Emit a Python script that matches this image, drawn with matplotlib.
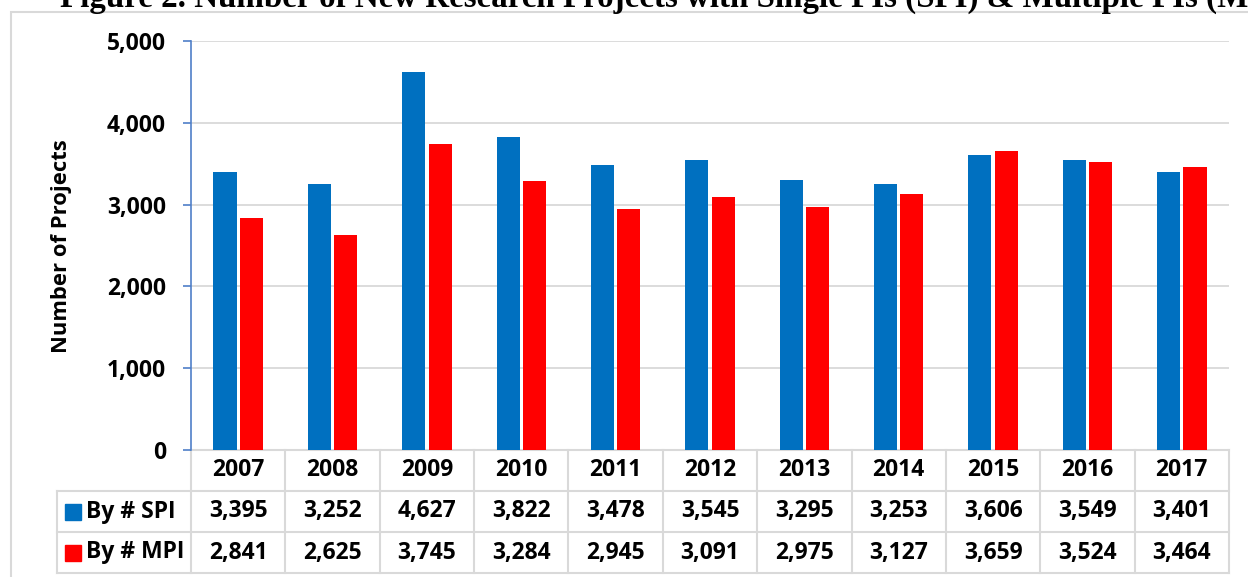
import numpy as np
import matplotlib.pyplot as plt
from matplotlib.patches import Rectangle

years = ['2007', '2008', '2009', '2010', '2011', '2012', '2013', '2014', '2015', '2016', '2017']
spi = [3395, 3252, 4627, 3822, 3478, 3545, 3295, 3253, 3606, 3549, 3401]
mpi = [2841, 2625, 3745, 3284, 2945, 3091, 2975, 3127, 3659, 3524, 3464]
series_names = ['By # SPI', 'By # MPI']
yticks = [0, 1000, 2000, 3000, 4000, 5000]

blue = '#0070C0'
red = '#FF0000'
grid_c = '#D9D9D9'
spine_c = '#4F7FC8'
font = 'Open Sans'
fs = 16.5

W, H = 1248, 577
fig = plt.figure(figsize=(W / 100, H / 100), dpi=100)

# outer chart border (runs off the right and bottom edges)
fig.patches.append(Rectangle((11 / W, -0.05), 1.2, 1 - 12 / H + 0.05,
                             transform=fig.transFigure, fill=False,
                             edgecolor=grid_c, linewidth=1.5))

# title, cut off at the top of the picture
fig.text(60 / W, 1 - 7 / H, 'Figure 2. Number of New Research Projects with Single PIs (SPI) & Multiple PIs (MPIs)',
         family='Liberation Serif', fontweight='bold', fontsize=23.8,
         ha='left', va='baseline')

ax = fig.add_axes([191 / W, 1 - 450 / H, (1229 - 191) / W, (450 - 41) / H])
x = np.arange(len(years))
bw = 0.245
ax.bar(x - 0.14, spi, bw, color=blue, zorder=3)
ax.bar(x + 0.14, mpi, bw, color=red, zorder=3)

ax.set_xlim(-0.5, len(years) - 0.5)
ax.set_ylim(0, 5000)
ax.set_yticks(yticks)
ax.set_yticklabels([f'{v:,}' for v in yticks], family=font, fontweight='bold', fontsize=fs)
ax.set_xticks([])
ax.tick_params(axis='y', length=6, width=1.2, color=spine_c, pad=12)
ax.grid(axis='y', color=grid_c, linewidth=1.3, zorder=0)
for s in ['top', 'right', 'bottom']:
    ax.spines[s].set_visible(False)
ax.spines['left'].set_color(spine_c)
ax.spines['left'].set_linewidth(1.2)

fig.text(62 / W, 1 - 246 / H, 'Number of Projects', rotation=90, family=font,
         fontweight='bold', fontsize=15.8, ha='center', va='center')

# data table under the axes
px = 1 / 409  # axes-fraction per pixel vertically
rows = [0, -41 * px, -82 * px, -123 * px]
label_left = (57 - 191) / (1229 - 191)
tr = ax.get_xaxis_transform()
line_kw = dict(color=grid_c, linewidth=1.5, clip_on=False, zorder=1)

# horizontal lines
ax.plot([-0.5, len(years) - 0.5], [rows[0], rows[0]], transform=tr, **line_kw)
for r in rows[1:]:
    ax.plot([label_left, 1], [r, r], transform=ax.transAxes, **line_kw)
# vertical lines
for i in range(len(years) + 1):
    ax.plot([i - 0.5, i - 0.5], [rows[0], rows[3]], transform=tr, **line_kw)
ax.plot([label_left, label_left], [rows[1], rows[3]], transform=ax.transAxes, **line_kw)

txt_kw = dict(family=font, fontweight='bold', fontsize=fs, ha='center', va='center',
              transform=tr, clip_on=False)
for i, yr in enumerate(years):
    ax.text(i, (rows[0] + rows[1]) / 2, yr, **txt_kw)
    ax.text(i, (rows[1] + rows[2]) / 2, f'{spi[i]:,}', **txt_kw)
    ax.text(i, (rows[2] + rows[3]) / 2, f'{mpi[i]:,}', **txt_kw)

for k, (name, col) in enumerate(zip(series_names, [blue, red])):
    yc = (rows[k + 1] + rows[k + 2]) / 2
    sq_x = (65 - 191) / (1229 - 191)
    ax.add_patch(Rectangle((sq_x, yc - 8 * px), 16 / 1038, 16 * px, transform=ax.transAxes,
                           color=col, clip_on=False))
    ax.text((86 - 191) / (1229 - 191), yc, name, family=font, fontweight='bold', fontsize=fs,
            ha='left', va='center', transform=ax.transAxes, clip_on=False)

fig.savefig('out.png', dpi=100)
